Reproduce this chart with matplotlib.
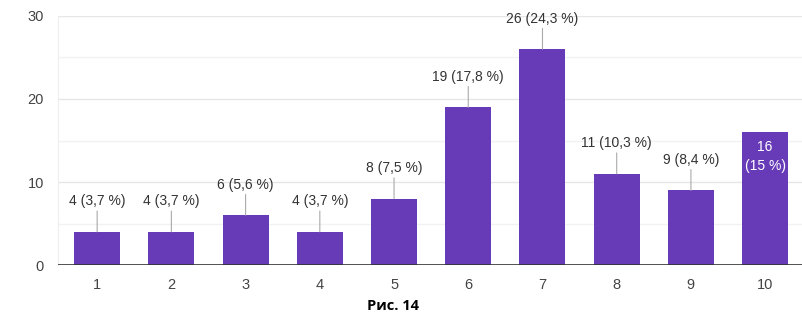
import matplotlib.pyplot as plt
import numpy as np

plt.rcParams['font.family'] = ['Liberation Sans', 'DejaVu Sans']

categories = ['1', '2', '3', '4', '5', '6', '7', '8', '9', '10']
counts = [4, 4, 6, 4, 8, 19, 26, 11, 9, 16]
percents = ['3,7', '3,7', '5,6', '3,7', '7,5', '17,8', '24,3', '10,3', '8,4', '15']
yticks = [0, 10, 20, 30]

purple = '#673ab7'
x = np.arange(1, len(categories) + 1)

fig = plt.figure(figsize=(8.03, 3.19), dpi=100)
ax = fig.add_axes([0.072, 0.169, 0.928, 0.781])

for y in [5, 15, 25]:
    ax.axhline(y, color='#f2f2f2', lw=1, zorder=0)
for y in [10, 20, 30]:
    ax.axhline(y, color='#e6e6e6', lw=1, zorder=0)

ax.bar(x, counts, width=0.62, color=purple, zorder=2)
ax.axhline(0, color='#333333', lw=1.2, zorder=3)

for xi, c, p in zip(x, counts, percents):
    if xi == 10:
        ax.text(xi, c - 0.9, f'{c}\n({p} %)', ha='center', va='top',
                color='white', fontsize=10, linespacing=1.45, zorder=4)
        continue
    ax.annotate('', xy=(xi, c), xytext=(0, 15), textcoords='offset points',
                arrowprops=dict(arrowstyle='-', color='#aaaaaa', lw=0.8,
                                shrinkA=0, shrinkB=0), zorder=3)
    ax.annotate(f'{c} ({p} %)', xy=(xi, c), xytext=(0, 17),
                textcoords='offset points', ha='center', va='bottom',
                fontsize=10, color='#333333', zorder=4)

ax.set_xlim(0.47, 10.51)
ax.set_ylim(0, 30)
ax.set_xticks(x)
ax.set_xticklabels(categories)
ax.set_yticks(yticks)
ax.tick_params(axis='both', length=0, labelsize=10.5, colors='#444444')
ax.tick_params(axis='x', pad=9)
ax.tick_params(axis='y', pad=10)
for s in ['top', 'right', 'bottom']:
    ax.spines[s].set_visible(False)
ax.spines['left'].set_color('#eeeeee')

fig.text(0.49, 0.042, 'Рис. 14', ha='center', va='center',
         fontsize=10.5, fontweight='bold', family=['Open Sans', 'DejaVu Sans'])

fig.savefig('out.png', dpi=100)
